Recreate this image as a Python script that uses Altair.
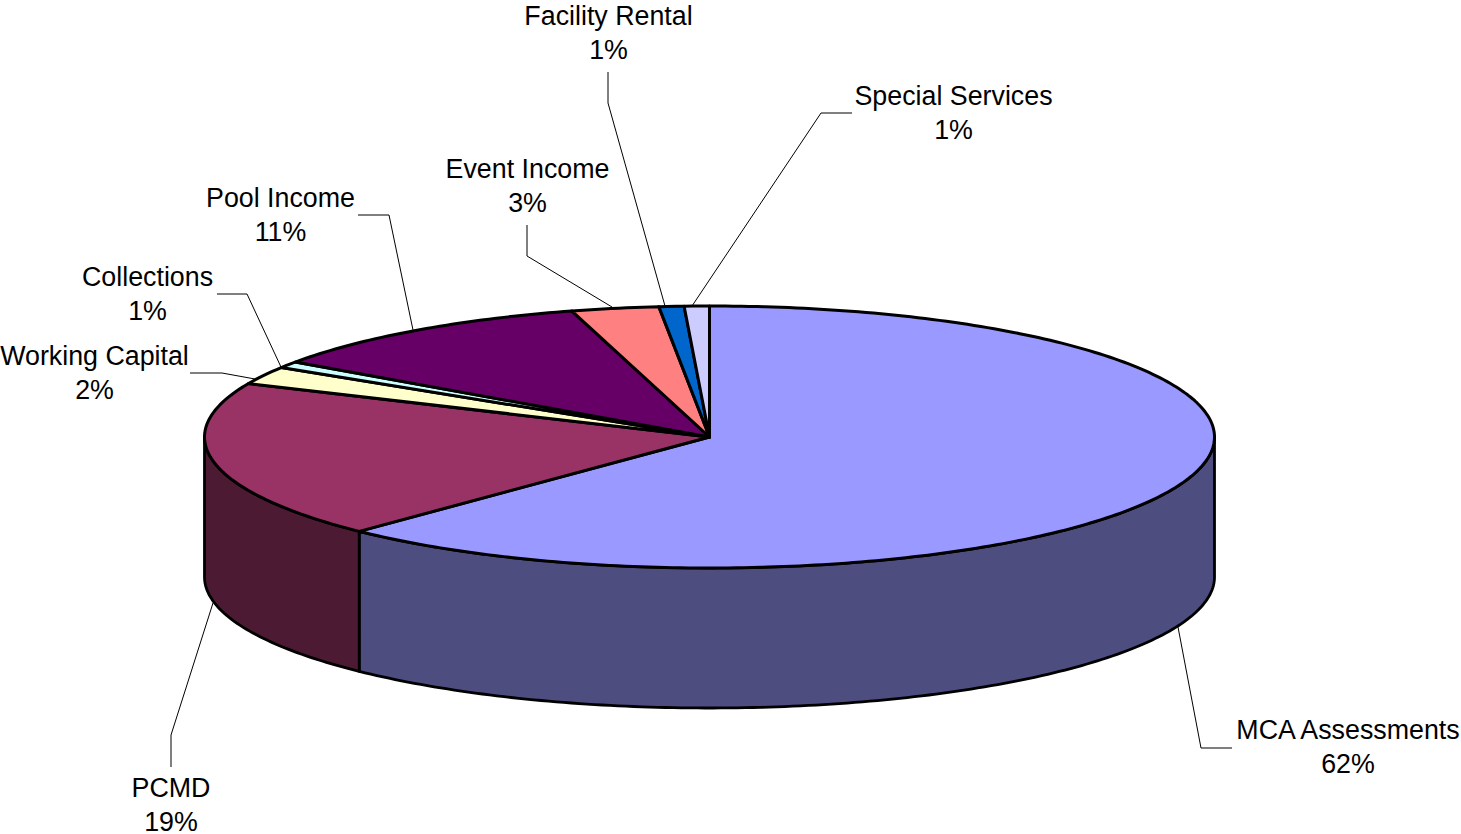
import math
import altair as alt

# Revenue shares, in percent, clockwise from twelve o'clock
names = ["MCA Assessments", "PCMD", "Working Capital", "Collections",
         "Pool Income", "Event Income", "Facility Rental", "Special Services"]
shares = [62.2, 19.49, 2.2, 0.8, 10.91, 2.8, 0.8, 0.8]

top_colors = ["#9999FF", "#993366", "#FFFFCC", "#CCFFFF",
              "#660066", "#FF8080", "#0066CC", "#CCCCFF"]
side_colors = ["#4D4D80", "#4D1A33"]

# Tilted-disc geometry, in canvas pixels
WIDTH, HEIGHT = 1461, 834
CX, CY, RX, RY, DEPTH = 709.5, 437.0, 505.0, 131.0, 140.0

# Label anchors (centre of the first line) and leader paths, in canvas pixels
label_x = [1348, 171, 94.5, 147.5, 280.5, 527.5, 608.5, 953.5]
label_y = [731, 789, 357, 278, 199, 170, 17, 97]
leaders = [
    [(1232, 748), (1201, 748), (1178, 627)],
    [(171, 767), (171, 735), (213, 603)],
    [(190, 373), (222, 373), (255, 379)],
    [(217, 294), (247, 294), (281, 367)],
    [(358, 215), (389, 215), (413, 330)],
    [(527, 225), (527, 256), (612, 307)],
    [(608, 72), (608, 103), (665, 306)],
    [(852, 113), (821, 113), (692, 306)],
]


def rim(share_from, share_to, drop=0.0):
    """Points along the disc's rim between two cumulative shares."""
    steps = max(2, int(abs(share_to - share_from) * 4))
    points = []
    for i in range(steps + 1):
        t = math.radians((share_from + (share_to - share_from) * i / steps) * 3.6)
        points.append([CX + RX * math.sin(t), CY - RY * math.cos(t) + drop])
    return points


def feature(name, ring):
    return {"type": "Feature", "properties": {"name": name},
            "geometry": {"type": "Polygon", "coordinates": [ring + [ring[0]]]}}


edges = [0.0]
for share in shares:
    edges.append(edges[-1] + share)

# Top face: one wedge per category
top_features = [
    feature(n, [[CX, CY]] + rim(a, b))
    for n, a, b in zip(names, edges[:-1], edges[1:])
]

# Front wall: only the part of the rim facing the viewer (25% to 75%)
side_features = []
for n, a, b in zip(names, edges[:-1], edges[1:]):
    lo, hi = max(a, 25.0), min(b, 75.0)
    if lo < hi:
        side_features.append(feature(n, rim(lo, hi) + rim(hi, lo, DEPTH)))

leader_features = [
    {"type": "Feature", "properties": {"name": n},
     "geometry": {"type": "LineString", "coordinates": [list(p) for p in path]}}
    for n, path in zip(names, leaders)
]

label_rows = [
    {"label": f"{n}\n{round(s)}%", "lon": x, "lat": y}
    for n, s, x, y in zip(names, shares, label_x, label_y)
]

# Identity projection keeps geometry in plain canvas coordinates
projection = dict(type="identity", scale=1, translate=[0, 0])

sides = alt.Chart(alt.Data(values=side_features)).mark_geoshape(
    stroke="#000000", strokeWidth=2.8, strokeJoin="round"
).encode(
    color=alt.Color("properties.name:N", legend=None,
                    scale=alt.Scale(domain=names[:2], range=side_colors))
).project(**projection)

tops = alt.Chart(alt.Data(values=top_features)).mark_geoshape(
    stroke="#000000", strokeWidth=3, strokeJoin="round"
).encode(
    color=alt.Color("properties.name:N", legend=None,
                    scale=alt.Scale(domain=names, range=top_colors))
).project(**projection)

lines = alt.Chart(alt.Data(values=leader_features)).mark_geoshape(
    filled=False, stroke="#000000", strokeWidth=1
).project(**projection)

labels = alt.Chart(alt.Data(values=label_rows)).mark_text(
    font="Liberation Sans", fontSize=26.8, color="#000000", align="center",
    baseline="middle", lineBreak="\n", lineHeight=33.5
).encode(
    longitude="lon:Q", latitude="lat:Q", text="label:N"
).project(**projection)

chart = alt.layer(lines, sides, tops, labels).resolve_scale(color="independent").properties(
    width=WIDTH, height=HEIGHT, padding=0, autosize=alt.AutoSizeParams(type="none"),
    background="#FFFFFF"
).configure_view(stroke=None)

chart.save("out.html", embed_options={"renderer": "svg", "actions": False})
